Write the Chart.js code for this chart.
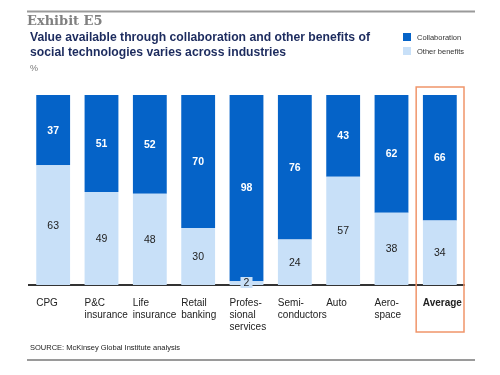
<!DOCTYPE html>
<html>
<head>
<meta charset="utf-8">
<script src="https://cdn.jsdelivr.net/npm/chart.js@4/dist/chart.umd.min.js"></script>
<style>
	html, body { margin: 0; padding: 0; background: #fff; }
	#wrap { width: 500px; height: 375px; position: relative; }
</style>
</head>
<body>
<div id="wrap"><canvas id="chart-exhibit"></canvas></div>
<script>
// Chart data
const CATEGORIES = [
	["CPG"],
	["P&C", "insurance"],
	["Life", "insurance"],
	["Retail", "banking"],
	["Profes-", "sional", "services"],
	["Semi-", "conductors"],
	["Auto"],
	["Aero-", "space"],
	["Average"],
];
const OTHER_BENEFITS = [63, 49, 48, 30, 2, 24, 57, 38, 34];
const COLLABORATION = [37, 51, 52, 70, 98, 76, 43, 62, 66];

const COLORS = {
	dark: "#0563c8",
	light: "#c8e0f8",
	title: "#1c2b5e",
	grey: "#9a9a9a",
	orange: "#f0956a",
};
const FONT = "'Liberation Sans', Arial, sans-serif";

// Titles, legend, rules and the highlight box
const frame = {
	id: "frame",
	beforeDraw(chart) {
		const c = chart.ctx;
		c.save();
		c.strokeStyle = COLORS.grey;
		c.lineWidth = 2;
		c.beginPath();
		c.moveTo(27, 11.5);
		c.lineTo(475, 11.5);
		c.moveTo(27, 360);
		c.lineTo(475, 360);
		c.stroke();

		c.textBaseline = "middle";
		c.fillStyle = "#808080";
		c.font = "bold 13px 'DejaVu Serif', 'Liberation Serif', serif";
		c.fillText("Exhibit E5", 27, 22);

		c.fillStyle = COLORS.title;
		c.font = "bold 12.2px " + FONT;
		c.fillText("Value available through collaboration and other benefits of", 30, 38);
		c.fillText("social technologies varies across industries", 30, 53);

		c.fillStyle = "#777";
		c.font = "9px " + FONT;
		c.fillText("%", 30, 69);

		c.fillStyle = COLORS.dark;
		c.fillRect(403, 33, 8, 8);
		c.fillStyle = COLORS.light;
		c.fillRect(403, 47, 8, 8);
		c.fillStyle = "#333";
		c.font = "7.5px " + FONT;
		c.fillText("Collaboration", 417, 37.5);
		c.fillText("Other benefits", 417, 51.5);

		c.fillStyle = "#222";
		c.font = "7.5px " + FONT;
		c.fillText("SOURCE: McKinsey Global Institute analysis", 30, 348);
		c.restore();
	},
	afterDraw(chart) {
		const c = chart.ctx;
		const x = chart.scales.x;
		const last = x.getPixelForTick(CATEGORIES.length - 1);
		const half = x.width / CATEGORIES.length / 2;
		c.save();
		c.strokeStyle = COLORS.orange;
		c.lineWidth = 1.5;
		c.strokeRect(last - half + 0.5, 87, half * 2 - 0.5, 245);
		c.restore();
	},
};

// Values inside the segments
const segmentLabels = {
	id: "segmentLabels",
	afterDatasetsDraw(chart) {
		const c = chart.ctx;
		c.save();
		c.textAlign = "center";
		c.textBaseline = "middle";
		chart.data.datasets.forEach((ds, di) => {
			chart.getDatasetMeta(di).data.forEach((bar, i) => {
				const v = ds.data[i];
				let y = (bar.y + bar.base) / 2;
				if (di === 0) {
					c.font = "10.5px " + FONT;
					c.fillStyle = "#222";
					if (v < 5) {
						y = bar.base - 2;
						c.fillStyle = COLORS.light;
						c.fillRect(bar.x - 6, y - 6, 12, 11);
						c.fillStyle = "#222";
					}
				} else {
					c.font = "bold 10.5px " + FONT;
					c.fillStyle = "#fff";
				}
				c.fillText(v, bar.x, y + 0.5);
			});
		});
		c.restore();
	},
};

const CHART_DATA = {
	labels: CATEGORIES,
	datasets: [
		{
			label: "Other benefits",
			data: OTHER_BENEFITS,
			backgroundColor: COLORS.light,
			borderWidth: 0,
			barPercentage: 0.7,
			categoryPercentage: 1,
		},
		{
			label: "Collaboration",
			data: COLLABORATION,
			backgroundColor: COLORS.dark,
			borderWidth: 0,
			barPercentage: 0.7,
			categoryPercentage: 1,
		},
	],
};

const CHART_CONFIG = {
	type: "bar",
	data: CHART_DATA,
	plugins: [frame, segmentLabels],
	options: {
		responsive: true,
		maintainAspectRatio: false,
		animation: false,
		layout: {
			padding: { top: 95, left: 29, right: 36, bottom: 0 },
		},
		scales: {
			x: {
				stacked: true,
				afterFit: (axis) => {
					axis.height = 90;
				},
				border: { display: true, color: "#333", width: 2 },
				grid: { display: false },
				ticks: {
					align: "start",
					labelOffset: -17,
					padding: 4,
					color: "#222",
					font: (ctx) => ({
						family: FONT,
						size: 10,
						lineHeight: 1.2,
						weight: ctx.index === CATEGORIES.length - 1 ? "bold" : "normal",
					}),
					maxRotation: 0,
					autoSkip: false,
				},
			},
			y: {
				stacked: true,
				display: false,
				min: 0,
				max: 100,
			},
		},
		plugins: {
			legend: { display: false },
			tooltip: { enabled: false },
		},
	},
};

new Chart(document.getElementById("chart-exhibit"), CHART_CONFIG);
</script>
</body>
</html>
